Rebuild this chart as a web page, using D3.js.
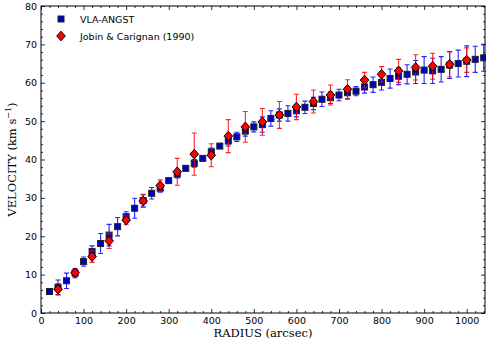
<!DOCTYPE html>
<html>
<head>
<meta charset="utf-8">
<script src="https://cdn.jsdelivr.net/npm/d3@7"></script>
<style>
  body { margin: 0; background: #fff; }
  svg { display: block; }
  .tick text { font-family: "DejaVu Sans", sans-serif; font-size: 9.5px; fill: #000; }
</style>
</head>
<body>
<div id="chart"></div>
<script>
// VLA-ANGST rotation curve (every 20 arcsec)
const vlaRadius = d3.range(20, 1041, 20);
const vlaVel = [5.6, 6.7, 8.4, 10.4, 13.4, 16.0, 18.1, 20.3, 22.5, 25.1,
  27.3, 29.3, 31.2, 32.5, 34.5, 36.2, 37.7, 39.0, 40.3, 42.0,
  43.5, 44.8, 45.9, 47.4, 48.5, 49.1, 50.7, 51.6, 52.0, 52.7,
  53.6, 54.6, 55.7, 56.1, 56.8, 57.4, 57.8, 58.9, 59.5, 60.1,
  61.1, 61.7, 62.2, 62.8, 63.3, 63.1, 63.5, 64.6, 65.0, 65.6,
  66.1, 66.5];
const vlaErr = [0.5, 1.9, 2.0, 1.2, 1.2, 1.5, 2.6, 2.8, 2.4, 1.3,
  2.6, 1.5, 1.5, 1.0, 0.5, 1.0, 0.6, 1.0, 0.5, 1.0,
  0.6, 1.3, 1.2, 1.3, 1.3, 2.0, 2.0, 1.6, 2.0, 1.6,
  1.6, 1.6, 1.9, 1.5, 1.5, 1.6, 1.2, 1.6, 2.0, 2.0,
  2.5, 2.2, 2.5, 3.0, 3.5, 3.3, 3.3, 3.5, 3.5, 4.0,
  3.4, 3.5];

// Jobin & Carignan (1990), every 40 arcsec
const jcRadius = d3.range(40, 1001, 40);
const jcVel = [6.2, 10.5, 14.7, 18.8, 24.2, 29.2, 33.2, 36.8, 41.4, 41.1,
  46.1, 48.5, 49.8, 51.6, 53.7, 55.1, 56.8, 58.3, 60.7, 62.2,
  63.1, 64.0, 64.3, 64.8, 65.9];
const jcErr = [1.5, 1.0, 1.5, 2.0, 1.2, 1.7, 1.5, 3.5, 5.5, 3.0,
  4.3, 4.0, 3.5, 3.5, 3.3, 3.0, 2.6, 2.5, 2.0, 2.0,
  3.0, 3.3, 3.4, 3.3, 3.2];

const xTicks = [0, 100, 200, 300, 400, 500, 600, 700, 800, 900, 1000];
const yTicks = [0, 10, 20, 30, 40, 50, 60, 70, 80];
const legendLabels = ["VLA-ANGST", "Jobin & Carignan (1990)"];

const width = 486, height = 343;
const margin = {top: 6, right: 1, bottom: 30, left: 41};

const svg = d3.select("#chart").append("svg")
  .attr("width", width)
  .attr("height", height);

const x = d3.scaleLinear().domain([0, 1043]).range([margin.left, width - margin.right]);
const y = d3.scaleLinear().domain([0, 80]).range([height - margin.bottom, margin.top]);

const blue = d3.range(vlaRadius.length).map(i => ({r: vlaRadius[i], v: vlaVel[i], e: vlaErr[i]}));
const red = d3.range(jcRadius.length).map(i => ({r: jcRadius[i], v: jcVel[i], e: jcErr[i]}));

// axes: ticks inward on all four sides
const xMinor = d3.range(0, 1043, 20).filter(d => d % 100 !== 0);
const yMinor = d3.range(0, 81, 2).filter(d => d % 10 !== 0);

function axisPair(axisFn, scale, major, minor, tr, showLabels, pad) {
  const g = svg.append("g").attr("transform", tr);
  g.call(axisFn(scale).tickValues(minor).tickSize(-2).tickFormat(""));
  const g2 = svg.append("g").attr("transform", tr);
  g2.call(axisFn(scale).tickValues(major).tickSize(-4).tickPadding(pad)
    .tickFormat(showLabels ? d3.format("d") : ""));
  [g, g2].forEach(a => {
    a.select(".domain").remove();
    a.selectAll("line").attr("stroke", "#000").attr("stroke-width", 0.8);
  });
  return g2;
}

axisPair(d3.axisBottom, x, xTicks, xMinor, `translate(0,${height - margin.bottom})`, true, 4);
axisPair(d3.axisTop, x, xTicks, xMinor, `translate(0,${margin.top})`, false, 4);
axisPair(d3.axisLeft, y, yTicks, yMinor, `translate(${margin.left},0)`, true, 4);
axisPair(d3.axisRight, y, yTicks, yMinor, `translate(${width - margin.right},0)`, false, 4);

svg.append("rect")
  .attr("x", margin.left).attr("y", margin.top)
  .attr("width", width - margin.right - margin.left)
  .attr("height", height - margin.bottom - margin.top)
  .attr("fill", "none").attr("stroke", "#000").attr("stroke-width", 1);

// error bars
function errorBars(data, color, opacity) {
  const g = svg.append("g").attr("stroke", color).attr("stroke-width", 1.1).attr("opacity", opacity);
  g.selectAll(".eb").data(data).enter().append("path")
    .attr("fill", "none")
    .attr("d", d => {
      const cx = x(d.r), y0 = y(d.v - d.e), y1 = y(d.v + d.e);
      return `M${cx},${y0}V${y1}M${cx - 2.5},${y0}H${cx + 2.5}M${cx - 2.5},${y1}H${cx + 2.5}`;
    });
}

errorBars(blue, "#0000ff", 0.85);

svg.append("g").selectAll("rect").data(blue).enter().append("rect")
  .attr("x", d => x(d.r) - 3).attr("y", d => y(d.v) - 3)
  .attr("width", 6).attr("height", 6)
  .attr("fill", "#0000c0").attr("stroke", "#222").attr("stroke-width", 1);

errorBars(red, "#ff0000", 0.85);

const diamond = "M0,-4.8L4.3,0L0,4.8L-4.3,0Z";
svg.append("g").selectAll("path").data(red).enter().append("path")
  .attr("transform", d => `translate(${x(d.r)},${y(d.v)})`)
  .attr("d", diamond)
  .attr("fill", "#ff0000").attr("stroke", "#000").attr("stroke-width", 1);

// legend
const leg = svg.append("g").attr("font-family", "DejaVu Sans, sans-serif").attr("font-size", "9.5px");
leg.append("rect").attr("x", 58).attr("y", 16).attr("width", 6).attr("height", 6)
  .attr("fill", "#0000c0").attr("stroke", "#222").attr("stroke-width", 1);
leg.append("path").attr("transform", "translate(61,36)").attr("d", diamond)
  .attr("fill", "#ff0000").attr("stroke", "#000").attr("stroke-width", 1);
leg.selectAll("text").data(legendLabels).enter().append("text")
  .attr("x", 80).attr("y", (d, i) => 22.5 + i * 17)
  .text(d => d);

// axis labels
svg.append("text")
  .attr("x", (margin.left + width - margin.right) / 2).attr("y", 336.5)
  .attr("text-anchor", "middle")
  .attr("font-family", "DejaVu Serif, serif").attr("font-size", "11.5px")
  .text("RADIUS (arcsec)");

const yl = svg.append("text")
  .attr("transform", `translate(16,${(margin.top + height - margin.bottom) / 2}) rotate(-90)`)
  .attr("text-anchor", "middle")
  .attr("font-family", "DejaVu Serif, serif").attr("font-size", "11.5px");
yl.append("tspan").text("VELOCITY (km s");
yl.append("tspan").attr("dy", -5).attr("font-size", "8px").text("\u22121");
yl.append("tspan").attr("dy", 5).text(")");
</script>
</body>
</html>
